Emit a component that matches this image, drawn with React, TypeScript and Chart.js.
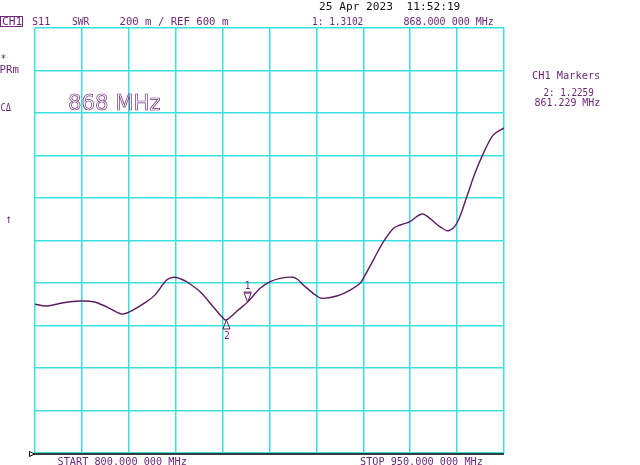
import React, { useEffect, useRef } from "react";
import { Chart, registerables } from "chart.js";

Chart.register(...registerables);

// Frequency (MHz) and SWR values
const freqMHz = [
  800, 803.7, 809.1, 814.4, 818.7, 822.9, 827.7, 830.4, 835.7, 838.4,
  842.1, 844.5, 846.5, 848.5, 852.8, 857.0, 860.2, 861.2, 865.0, 868.0,
  872.0, 875.2, 878.4, 882.6, 884.2, 885.8, 889.6, 891.7, 896.5, 900.8,
  904.0, 905.0, 908.2, 911.4, 914.6, 916.8, 919.9, 923.7, 926.3, 929.5,
  932.2, 934.9, 938.1, 940.7, 943.4, 946.6, 950.0,
];
const swrValues = [
  1.300, 1.292, 1.307, 1.315, 1.312, 1.288, 1.254, 1.265, 1.312, 1.344,
  1.414, 1.427, 1.420, 1.406, 1.359, 1.288, 1.234, 1.226, 1.273, 1.310,
  1.375, 1.406, 1.422, 1.427, 1.414, 1.391, 1.344, 1.328, 1.339, 1.367,
  1.399, 1.422, 1.508, 1.594, 1.657, 1.673, 1.689, 1.725, 1.704, 1.665,
  1.646, 1.681, 1.806, 1.916, 2.010, 2.097, 2.130,
];
const xTicks = [800, 815, 830, 845, 860, 875, 890, 905, 920, 935, 950];
const yTicks = [0.6, 0.8, 1.0, 1.2, 1.4, 1.6, 1.8, 2.0, 2.2, 2.4, 2.6];
const markerFreqs = [868.0, 861.229];
const markerValues = [1.3102, 1.2259];
const markerLabels = ["1", "2"];

const TEXT = "#6e2878";
const TRACE = "#5c1a60";
const GRID = "#38e0e0";
const MONO = '"DejaVu Sans Mono", monospace';

function drawText(
  ctx: CanvasRenderingContext2D,
  s: string,
  x: number,
  baseline: number,
  w: number,
  color: string,
  size = 10.5
) {
  ctx.save();
  ctx.font = `${size}px ${MONO}`;
  const m = ctx.measureText(s);
  const ink = m.actualBoundingBoxLeft + m.actualBoundingBoxRight;
  const k = w / ink;
  ctx.translate(x + m.actualBoundingBoxLeft * k, baseline);
  ctx.scale(k, 1);
  ctx.fillStyle = color;
  ctx.textBaseline = "alphabetic";
  ctx.fillText(s, 0, 0);
  ctx.restore();
}

const overlay = {
  id: "vnaOverlay",
  afterDraw(chart: any) {
    const ctx: CanvasRenderingContext2D = chart.ctx;
    const xs = chart.scales.x;
    const ys = chart.scales.y;
    ctx.save();

    // bottom black reference line with marker
    ctx.strokeStyle = "#000";
    ctx.lineWidth = 1.3;
    ctx.beginPath();
    ctx.moveTo(xs.left - 2, ys.bottom + 1);
    ctx.lineTo(xs.right, ys.bottom + 1);
    ctx.stroke();
    ctx.lineWidth = 1;
    ctx.beginPath();
    ctx.moveTo(29.5, ys.bottom - 1.5);
    ctx.lineTo(29.5, ys.bottom + 3.5);
    ctx.lineTo(34.5, ys.bottom + 1);
    ctx.closePath();
    ctx.stroke();

    // markers
    ctx.strokeStyle = TRACE;
    ctx.lineWidth = 1;
    markerFreqs.forEach((f, i) => {
      const px = xs.getPixelForValue(f);
      const py = ys.getPixelForValue(markerValues[i]);
      ctx.beginPath();
      if (i === 0) {
        ctx.moveTo(px, py);
        ctx.lineTo(px - 3.5, py - 9);
        ctx.lineTo(px + 3.5, py - 9);
        ctx.closePath();
        ctx.moveTo(px - 4, py - 10);
        ctx.lineTo(px + 4, py - 10);
        ctx.stroke();
        drawText(ctx, markerLabels[i], px - 2, py - 13, 4.5, TEXT);
      } else {
        ctx.moveTo(px, py);
        ctx.lineTo(px - 3.5, py + 9);
        ctx.lineTo(px + 3.5, py + 9);
        ctx.closePath();
        ctx.stroke();
        drawText(ctx, markerLabels[i], px - 2.5, py + 19, 5.5, TEXT);
      }
    });

    // header texts
    ctx.strokeStyle = TEXT;
    ctx.lineWidth = 1;
    ctx.strokeRect(0.5, 16.5, 22, 10);
    drawText(ctx, "CH1", 2, 25, 20, TEXT);
    drawText(ctx, "S11", 32, 25, 18, TEXT);
    drawText(ctx, "SWR", 72, 25, 18, TEXT);
    drawText(ctx, "200 m / REF 600 m", 119.5, 25, 108.5, TEXT);
    drawText(ctx, "1: 1.3102", 313, 25, 50, TEXT);
    drawText(ctx, "868.000 000 MHz", 403.5, 25, 90, TEXT);
    drawText(ctx, "25 Apr 2023  11:52:19", 319, 10, 141, "#111");

    // left annotations
    drawText(ctx, "*", 0.5, 61.5, 5.5, TEXT);
    drawText(ctx, "PRm", 0.5, 73, 18, TEXT);
    drawText(ctx, "C\u0394", 0.5, 111, 11, TEXT);
    drawText(ctx, "\u2191", 6.5, 222.5, 4.5, TEXT, 12);

    // big frequency label (outline font)
    ctx.save();
    ctx.font = `22px "DejaVu Sans"`;
    const big = "868 MHz";
    const m = ctx.measureText(big);
    const ink = m.actualBoundingBoxLeft + m.actualBoundingBoxRight;
    const k = 91 / ink;
    ctx.translate(69 + m.actualBoundingBoxLeft * k, 109.5);
    ctx.scale(k, 1);
    ctx.strokeStyle = TEXT;
    ctx.lineWidth = 0.7;
    ctx.strokeText(big, 0, 0);
    ctx.restore();

    // right marker table
    drawText(ctx, "CH1 Markers", 532, 79, 68, TEXT);
    drawText(ctx, "2: 1.2259", 543.5, 96, 50, TEXT);
    drawText(ctx, "861.229 MHz", 534.5, 105.7, 65.5, TEXT);

    // footer
    drawText(ctx, "START 800.000 000 MHz", 57.5, 464.5, 129, TEXT);
    drawText(ctx, "STOP 950.000 000 MHz", 360, 464.5, 122.5, TEXT);

    ctx.restore();
  },
};

export default function App() {
  const ref = useRef<HTMLCanvasElement | null>(null);
  useEffect(() => {
    if (!ref.current) return;
    const chart = new Chart(ref.current, {
      type: "line",
      data: {
        datasets: [
          {
            data: freqMHz.map((f, i) => ({ x: f, y: swrValues[i] })),
            borderColor: TRACE,
            borderWidth: 1.4,
            pointRadius: 0,
            tension: 0.35,
            fill: false,
          },
        ],
      },
      options: {
        animation: false,
        responsive: false,
        maintainAspectRatio: false,
        layout: { padding: { left: 35, right: 136, top: 28, bottom: 12 } },
        plugins: { legend: { display: false }, tooltip: { enabled: false } },
        scales: {
          x: {
            type: "linear",
            min: 800,
            max: 950,
            afterBuildTicks: (s: any) => {
              s.ticks = xTicks.map((v) => ({ value: v }));
            },
            ticks: { display: false },
            grid: { color: GRID, lineWidth: 1.5, drawTicks: false },
            border: { display: false },
          },
          y: {
            type: "linear",
            min: 0.6,
            max: 2.6,
            afterBuildTicks: (s: any) => {
              s.ticks = yTicks.map((v) => ({ value: v }));
            },
            ticks: { display: false },
            grid: { color: GRID, lineWidth: 1.5, drawTicks: false },
            border: { display: false },
          },
        },
      },
      plugins: [overlay],
    });
    return () => chart.destroy();
  }, []);
  return (
    <div style={{ position: "fixed", left: 0, top: 0, width: 640, height: 465, background: "#fff" }}>
      <canvas ref={ref} width={640} height={465} style={{ width: 640, height: 465, display: "block" }} />
    </div>
  );
}
